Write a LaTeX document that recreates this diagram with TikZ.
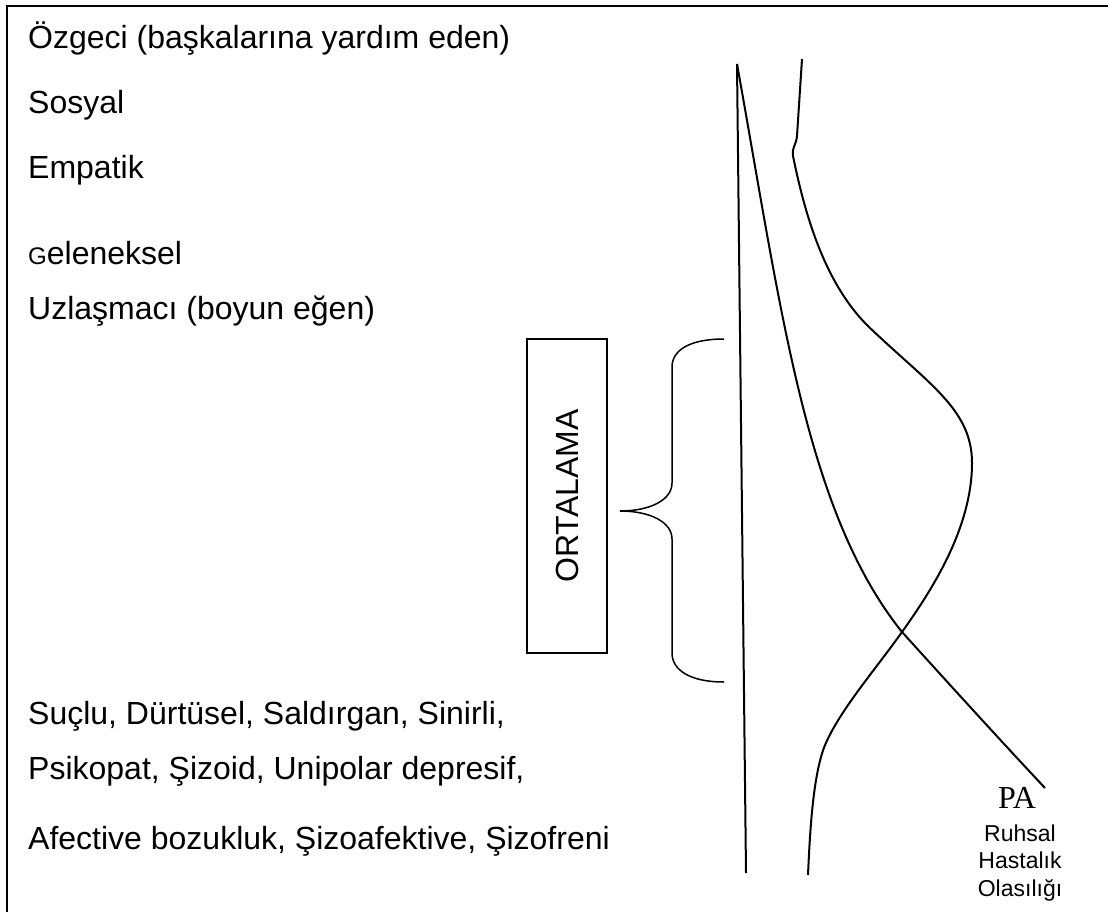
\documentclass[tikz,border=0pt]{standalone}
\usepackage{fontspec}
\setmainfont{Liberation Sans}
\newfontfamily\pafont{Liberation Serif}
\begin{document}
\begin{tikzpicture}[x=1pt,y=-1pt,
  lbl/.style={anchor=base west,inner sep=0pt,font=\fontsize{32}{32}\selectfont},
  small/.style={anchor=base,inner sep=0pt,font=\fontsize{23}{23}\selectfont},
  curve/.style={line width=2pt,line join=round},
  frame/.style={line width=2pt}]
\useasboundingbox (0,0) rectangle (1108,912);
% frame (top and left edges visible)
\draw[frame] (1108,6) -- (7,6) -- (7,912);
% left labels
\node[lbl] (t1) at (28,49) {Özgeci (başkalarına yardım eden)};
\node[lbl] (t2) at (28,114) {Sosyal};
\node[lbl] (t3) at (28,179) {Empatik};
\node[lbl] (t4) at (28,264) {{\fontsize{24}{24}\selectfont G}eleneksel};
\node[lbl] (t5) at (28,319) {Uzlaşmacı (boyun eğen)};
\node[lbl] (t6) at (28,724) {Suçlu, Dürtüsel, Saldırgan, Sinirli,};
\node[lbl] (t7) at (28,779) {Psikopat, Şizoid, Unipolar depresif,};
\node[lbl] (t8) at (28,849) {Afective bozukluk, Şizoafektive, Şizofreni};
% ORTALAMA box
\draw[line width=1.5pt] (527,339) rectangle (607,653);
\node[rotate=90,inner sep=0pt,font=\fontsize{32}{32}\selectfont] (ort) at (567,496) {ORTALAMA};
% brace
\draw[line width=1.5pt] (724,339) .. controls (690,339) and (672,350) .. (672,367)
  -- (672,483) .. controls (672,500) and (650,511) .. (620,511)
  .. controls (650,511) and (672,522) .. (672,539)
  -- (672,653) .. controls (672,670) and (690,682) .. (724,682);
% vertical axis line
\coordinate (top) at (737,64);
\coordinate (bot) at (746,873);
\draw[curve] (top) -- (bot);
% decreasing curve
\coordinate (cross) at (902,632);
\coordinate (paend) at (1045,788);
\draw[curve] (top) .. controls (782,314) and (806,512) .. (cross)
  .. controls (950,685) and (1000,740) .. (paend);
% bell-shaped curve
\coordinate (b0) at (802,59);
\coordinate (b1) at (808,875);
\draw[curve] (b0) -- (797,136) .. controls (796,146) and (792,146) .. (793,156)
  .. controls (805,215) and (825,285) .. (870,328)
  .. controls (930,385) and (972,410) .. (972,463)
  .. controls (972,530) and (929,594) .. (cross)
  .. controls (875,670) and (840,710) .. (825,745)
  .. controls (813,775) and (810,830) .. (b1);
% PA label
\node[anchor=base,inner sep=0pt,font=\pafont\fontsize{32}{32}\selectfont] (pa) at (1017,808) {PA};
\node[small] (r1) at (1020,841) {Ruhsal};
\node[small] (r2) at (1020,868) {Hastalık};
\node[small] (r3) at (1020,896) {Olasılığı};
\end{tikzpicture}
\end{document}
